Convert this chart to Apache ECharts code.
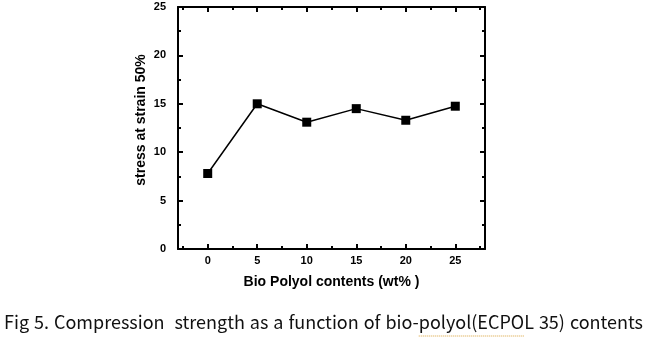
<!DOCTYPE html>
<html>
<head>
<meta charset="utf-8">
<script src="https://cdn.jsdelivr.net/npm/echarts@6/dist/echarts.min.js"></script>
<style>
  html, body { margin: 0; padding: 0; background: #fff; }
  #chart { width: 647px; height: 346px; }
</style>
</head>
<body>
<div id="chart"></div>
<script>
// Bio polyol content (wt%) and compressive stress at 50% strain
const contents = [0, 5, 10, 15, 20, 25];
const stress = [7.8, 15.0, 13.1, 14.5, 13.3, 14.75];

const xMajor = [0, 5, 10, 15, 20, 25];
const xMinor = [-2.5, 2.5, 7.5, 12.5, 17.5, 22.5, 27.5];

const xTitle = 'Bio Polyol contents (wt% )';
const yTitle = 'stress at strain 50%';
// caption words; the gap after "Compression" is a double gap
const captionWords = ['Fig', '5.', 'Compression', 'strength', 'as', 'a', 'function', 'of', 'bio-polyol(ECPOL', '35)', 'contents'];
const captionGapWeights = [1, 1, 2, 1, 1, 1, 1, 1, 1, 1];

const chart = echarts.init(document.getElementById('chart'));
const fontFamily = 'Liberation Sans, Arial, sans-serif';
const axisFont = { fontFamily, fontWeight: 'bold', color: '#000' };
const lineStyle = { color: '#000', width: 2 };

function xAxisDef(pos, major, withLabel, withLine) {
  return {
    type: 'value', position: pos, min: -3, max: 28,
    axisLine: { show: withLine, onZero: false, lineStyle },
    axisTick: { show: true, inside: true, length: major ? 5 : 3, customValues: major ? xMajor : xMinor, lineStyle: { color: '#000', width: 2 } },
    axisLabel: withLabel ? { show: true, customValues: xMajor, fontSize: 11, margin: 6, ...axisFont } : { show: false },
    splitLine: { show: false },
    name: withLabel ? xTitle : '',
    nameLocation: 'middle', nameGap: 26,
    nameTextStyle: { fontSize: 14, ...axisFont }
  };
}

function yAxisDef(pos, withLabel) {
  return {
    type: 'value', position: pos, min: 0, max: 25, interval: 5,
    axisLine: { show: true, onZero: false, lineStyle },
    axisTick: { show: true, inside: true, length: 5, lineStyle: { color: '#000', width: 2 } },
    minorTick: { show: true, splitNumber: 2, length: 3, lineStyle: { color: '#000', width: 2 } },
    axisLabel: withLabel ? { show: true, fontSize: 11, margin: 12, ...axisFont } : { show: false },
    splitLine: { show: false }
  };
}

// Justified caption line between two x positions
const capFont = '18px "Noto Sans CJK KR", "Noto Sans", sans-serif';
const capLeft = 4, capRight = 643, capTop = 313;
const measureCtx = document.createElement('canvas').getContext('2d');
measureCtx.font = capFont;
const wordWidths = captionWords.map(w => measureCtx.measureText(w).width);
const totalWords = wordWidths.reduce((a, b) => a + b, 0);
const totalWeight = captionGapWeights.reduce((a, b) => a + b, 0);
const unitGap = (capRight - capLeft - totalWords) / totalWeight;
const captionGraphics = [];
let cx = capLeft;
let underline = null;
captionWords.forEach((w, i) => {
  captionGraphics.push({
    type: 'text', x: cx, y: capTop,
    style: { text: w, font: capFont, fill: '#111', align: 'left', verticalAlign: 'top' }
  });
  if (w.indexOf('polyol(') >= 0) {
    const start = cx + measureCtx.measureText('bio-').width;
    const end = cx + measureCtx.measureText('bio-polyol(ECPO').width;
    underline = { type: 'line', shape: { x1: start, y1: 336, x2: end, y2: 336 },
      style: { stroke: '#d9a23a', lineWidth: 1, lineDash: [1, 1] } };
  }
  cx += wordWidths[i] + (i < captionGapWeights.length ? captionGapWeights[i] * unitGap : 0);
});

chart.setOption({
  backgroundColor: '#fff',
  animation: false,
  grid: { left: 178, right: 162, top: 7, bottom: 97 },
  xAxis: [
    xAxisDef('bottom', true, true, true),
    xAxisDef('bottom', false, false, false),
    xAxisDef('top', true, false, true),
    xAxisDef('top', false, false, false)
  ],
  yAxis: [
    yAxisDef('left', true),
    yAxisDef('right', false)
  ],
  series: [{
    type: 'line',
    xAxisIndex: 0, yAxisIndex: 0,
    data: contents.map((c, i) => [c, stress[i]]),
    symbol: 'rect', symbolSize: 9,
    lineStyle: { color: '#000', width: 1.5 },
    itemStyle: { color: '#000' }
  }],
  graphic: [
    {
      // vertical axis title
      type: 'text', x: 141, y: 120, rotation: Math.PI / 2,
      style: {
        text: yTitle, fontFamily, fontWeight: 'bold', fontSize: 14, fill: '#000',
        align: 'center', verticalAlign: 'middle'
      }
    },
    ...captionGraphics,
    ...(underline ? [underline] : [])
  ]
});
</script>
</body>
</html>
